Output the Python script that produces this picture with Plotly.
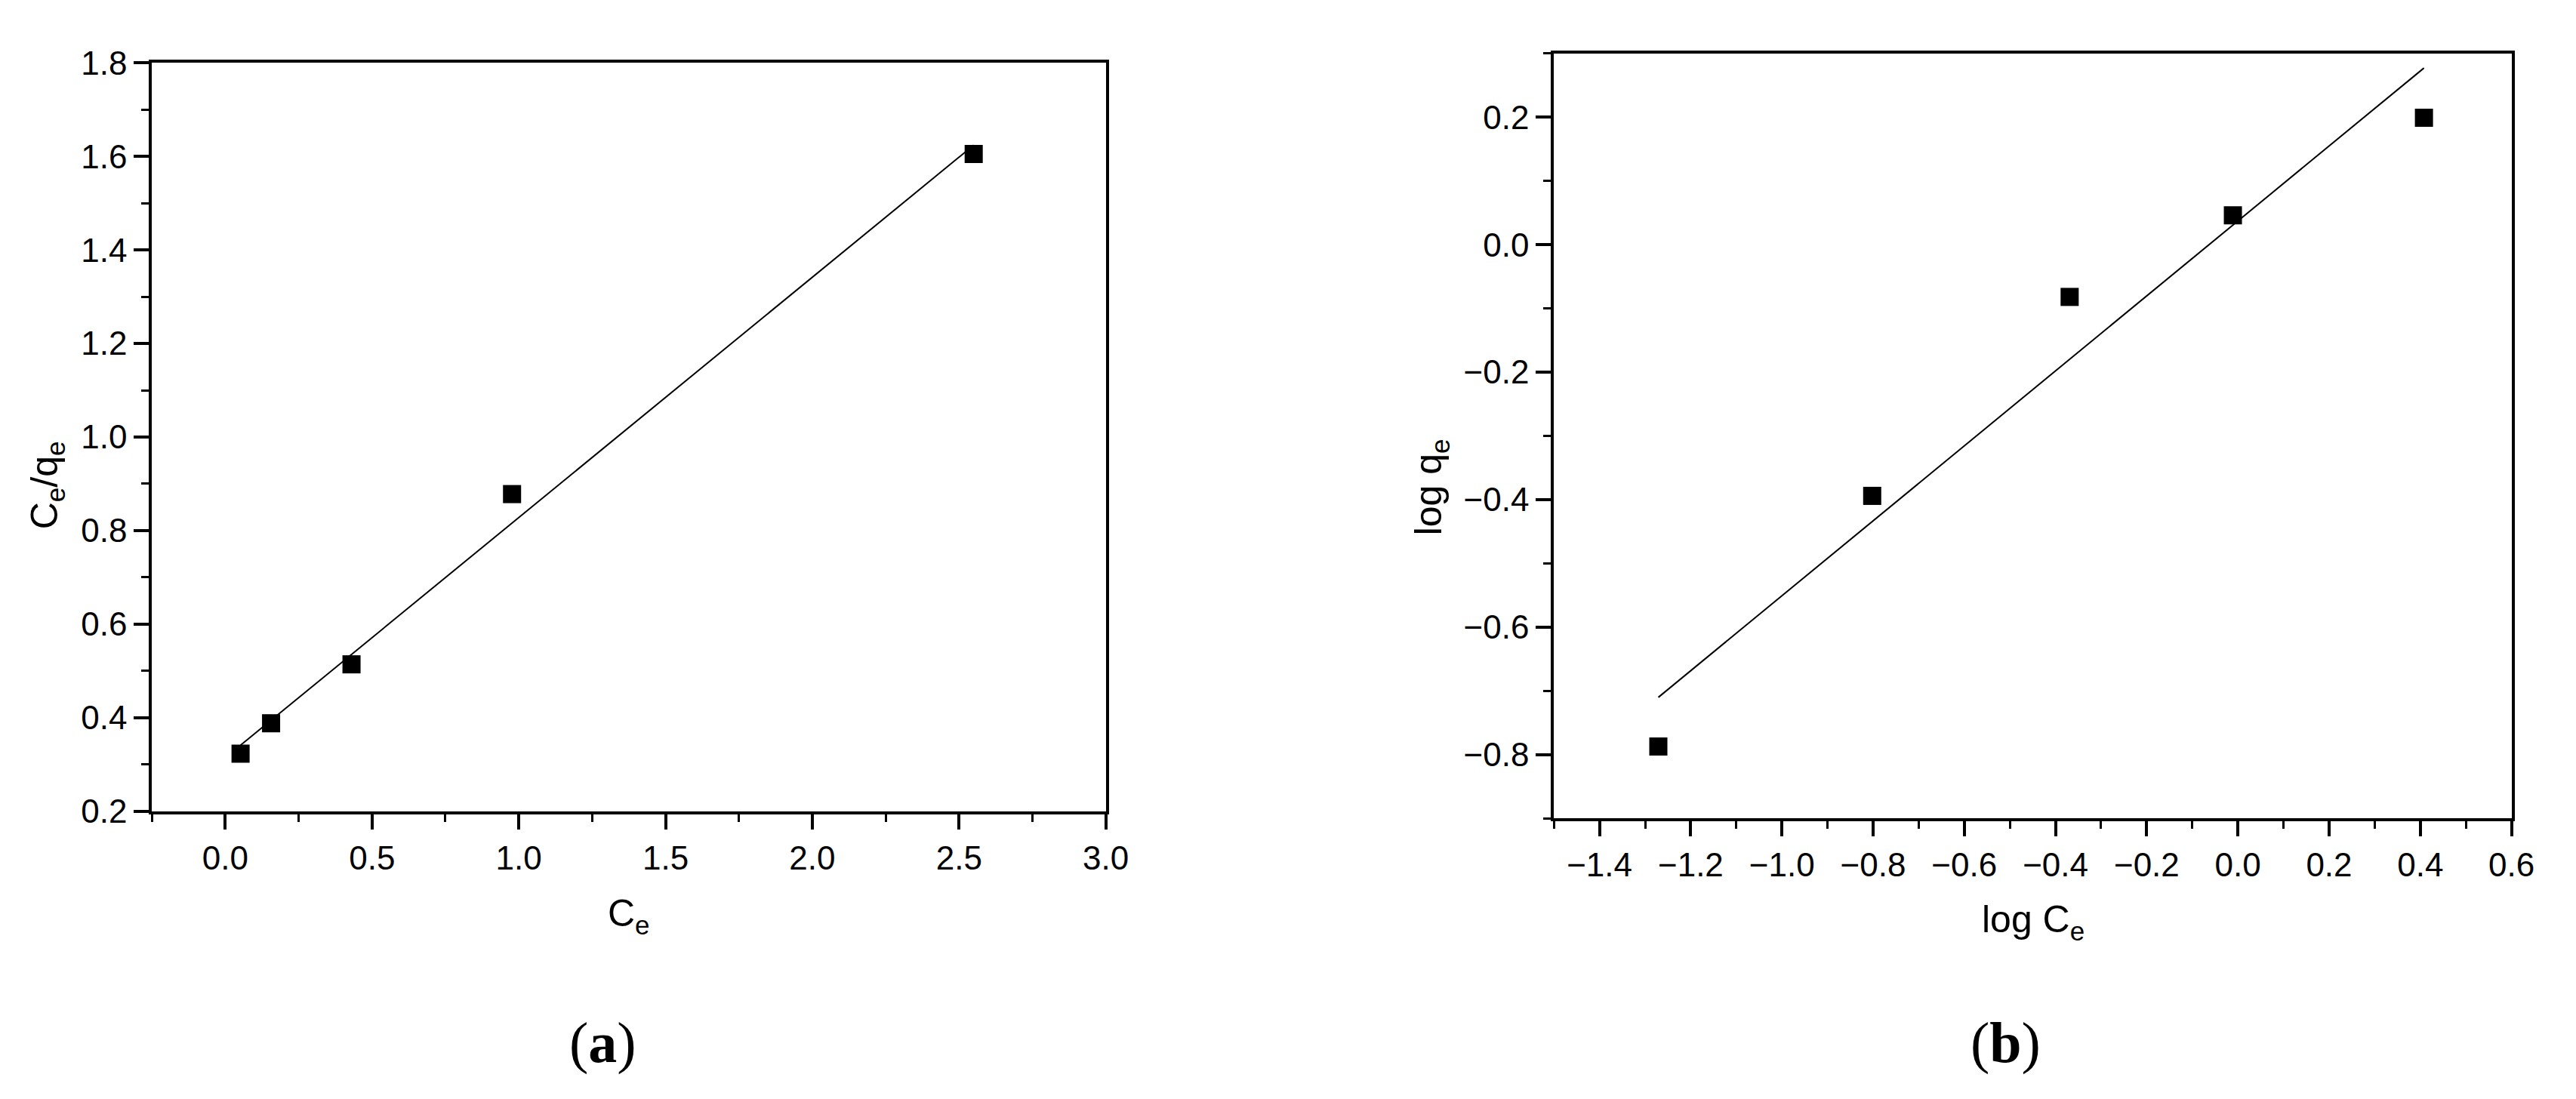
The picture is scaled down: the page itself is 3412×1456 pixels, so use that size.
import plotly.graph_objects as go

W, H = 3412, 1456

# Panel (a): Langmuir
a_x = [0.052, 0.156, 0.43, 0.977, 2.55]
a_y = [0.323, 0.388, 0.514, 0.878, 1.605]
a_fit_x = [0.052, 2.55]
a_fit_y = [0.341, 1.624]

# Panel (b): Freundlich
b_x = [-1.271, -0.802, -0.369, -0.011, 0.408]
b_y = [-0.787, -0.394, -0.082, 0.046, 0.199]
b_fit_x = [-1.271, 0.408]
b_fit_y = [-0.710, 0.277]

FONT = "Liberation Sans, Arial, sans-serif"
SERIF = "Liberation Serif, Times New Roman, serif"

fig = go.Figure()
fig.add_trace(go.Scatter(x=a_fit_x, y=a_fit_y, mode="lines",
                         line=dict(color="black", width=2), xaxis="x", yaxis="y", showlegend=False))
fig.add_trace(go.Scatter(x=a_x, y=a_y, mode="markers",
                         marker=dict(symbol="square", size=24, color="black"), xaxis="x", yaxis="y", showlegend=False))
fig.add_trace(go.Scatter(x=b_fit_x, y=b_fit_y, mode="lines",
                         line=dict(color="black", width=2), xaxis="x2", yaxis="y2", showlegend=False))
fig.add_trace(go.Scatter(x=b_x, y=b_y, mode="markers",
                         marker=dict(symbol="square", size=24, color="black"), xaxis="x2", yaxis="y2", showlegend=False))

def ax(domain, rng, dtick, minor_dtick, anchor, fmt):
    return dict(domain=domain, range=rng, dtick=dtick, tick0=0, tickformat=fmt,
                showline=True, linecolor="black", linewidth=4, mirror=True,
                ticks="outside", ticklen=20, tickwidth=4, tickcolor="black",
                minor=dict(dtick=minor_dtick, ticks="outside", ticklen=10, tickwidth=3, tickcolor="black", showgrid=False),
                showgrid=False, zeroline=False, anchor=anchor,
                tickfont=dict(family=FONT, size=44, color="black"))

fig.update_layout(
    width=W, height=H, margin=dict(l=0, r=0, t=0, b=0),
    paper_bgcolor="white", plot_bgcolor="white",
    xaxis=ax([195 / W, 1470 / W], [-0.25, 3.0], 0.5, 0.25, "y", ".1f"),
    yaxis=ax([1 - 1078 / H, 1 - 52 / H], [0.2, 1.8], 0.2, 0.1, "x", ".1f"),
    xaxis2=ax([2069 / W, 3349 / W], [-1.5, 0.6], 0.2, 0.1, "y2", ".1f"),
    yaxis2=ax([1 - 1088 / H, 1 - 39 / H], [-0.9, 0.3], 0.2, 0.1, "x2", ".1f"),
)

def ann(text, px, py, size, family=FONT, angle=0):
    fig.add_annotation(text=text, x=px / W, y=1 - py / H, xref="paper", yref="paper",
                       showarrow=False, textangle=angle, xanchor="center", yanchor="middle",
                       font=dict(family=family, size=size, color="black"))

ann("C<sub>e</sub>", 833, 1222, 50)
ann("C<sub>e</sub>/q<sub>e</sub>", 55, 631, 50, angle=-90)
ann("log C<sub>e</sub>", 2710, 1230, 50)
ann("log q<sub>e</sub>", 1905, 634, 50, angle=-90)
ann("(<b>a</b>)", 798, 1395, 76, family=SERIF)
ann("(<b>b</b>)", 2673, 1395, 76, family=SERIF)

fig.write_html("out.html")
